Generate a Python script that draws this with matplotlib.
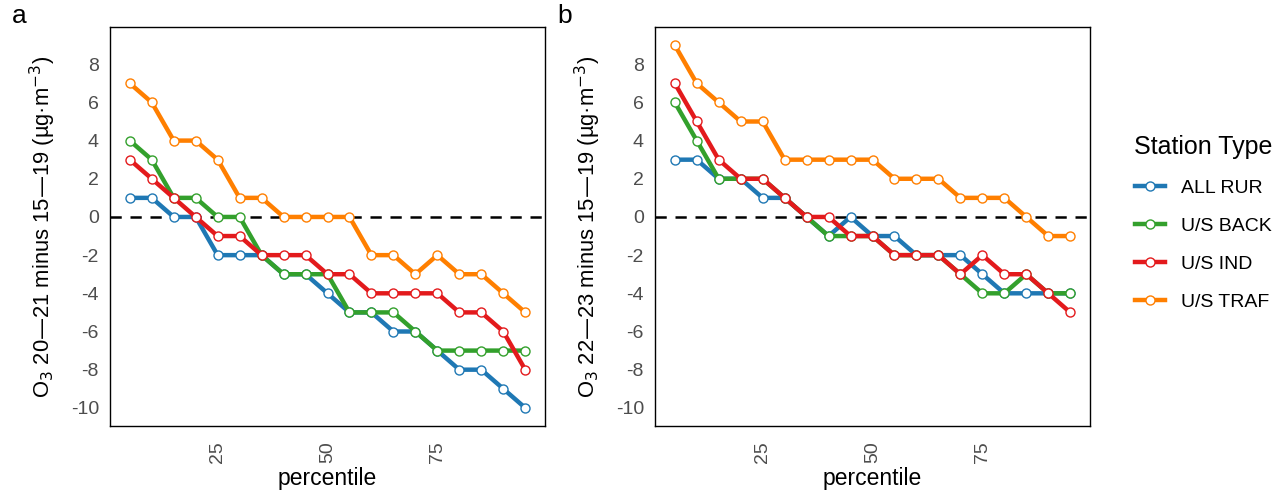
import matplotlib
matplotlib.use("Agg")
import matplotlib.pyplot as plt
from matplotlib.lines import Line2D

plt.rcParams['font.family'] = ['Liberation Sans', 'DejaVu Sans']
plt.rcParams['axes.unicode_minus'] = False

percentile = [5, 10, 15, 20, 25, 30, 35, 40, 45, 50, 55, 60, 65, 70, 75, 80, 85, 90, 95]
station_types = ["ALL RUR", "U/S BACK", "U/S IND", "U/S TRAF"]
colors = ["#1f78b4", "#33a02c", "#e31a1c", "#ff7f00"]

# Panel a: O3 2020-21 minus 2015-19
a_rur = [1, 1, 0, 0, -2, -2, -2, -3, -3, -4, -5, -5, -6, -6, -7, -8, -8, -9, -10]
a_back = [4, 3, 1, 1, 0, 0, -2, -3, -3, -3, -5, -5, -5, -6, -7, -7, -7, -7, -7]
a_ind = [3, 2, 1, 0, -1, -1, -2, -2, -2, -3, -3, -4, -4, -4, -4, -5, -5, -6, -8]
a_traf = [7, 6, 4, 4, 3, 1, 1, 0, 0, 0, 0, -2, -2, -3, -2, -3, -3, -4, -5]

# Panel b: O3 2022-23 minus 2015-19
b_rur = [3, 3, 2, 2, 1, 1, 0, -1, 0, -1, -1, -2, -2, -2, -3, -4, -4, -4, -4]
b_back = [6, 4, 2, 2, 2, 1, 0, -1, -1, -1, -2, -2, -2, -3, -4, -4, -3, -4, -4]
b_ind = [7, 5, 3, 2, 2, 1, 0, 0, -1, -1, -2, -2, -2, -3, -2, -3, -3, -4, -5]
b_traf = [9, 7, 6, 5, 5, 3, 3, 3, 3, 3, 2, 2, 2, 1, 1, 1, 0, -1, -1]

y_ticks = [-10, -8, -6, -4, -2, 0, 2, 4, 6, 8]
x_ticks = [25, 50, 75]

panels = [
    ("a", [a_rur, a_back, a_ind, a_traf], r"O$_3$ 20—21 minus 15—19 (µg·m$^{-3}$)"),
    ("b", [b_rur, b_back, b_ind, b_traf], r"O$_3$ 22—23 minus 15—19 (µg·m$^{-3}$)"),
]

W, H = 1278, 491
fig = plt.figure(figsize=(W / 100, H / 100), dpi=100)

axes_px = [(110, 27, 545, 426), (655, 27, 1090, 426)]
tag_px = [(12, 28), (557, 28)]

for (tag, series, ylabel), (l, t, r, b), (tx, ty) in zip(panels, axes_px, tag_px):
    ax = fig.add_axes([l / W, 1 - b / H, (r - l) / W, (b - t) / H])
    ax.axhline(0, color="black", lw=1.8, ls=(0, (4.5, 3.5)), zorder=1)
    for vals, c, name in zip(series, colors, station_types):
        ax.plot(percentile, vals, color=c, lw=3.2, marker="o", ms=6.5,
                mfc="white", mec=c, mew=1.0, zorder=2, label=name,
                solid_joinstyle="round", solid_capstyle="round")
    ax.set_xlim(0.5, 99.5)
    ax.set_ylim(-10.95, 9.95)
    ax.set_xticks(x_ticks)
    ax.set_xticklabels([str(v) for v in x_ticks], rotation=90)
    ax.set_yticks(y_ticks)
    ax.tick_params(length=0, labelsize=14, labelcolor="#4d4d4d")
    ax.tick_params(axis="y", pad=8)
    ax.tick_params(axis="x", pad=11)
    for s in ax.spines.values():
        s.set_color("black")
        s.set_linewidth(1.0)
    ax.set_xlabel("percentile", fontsize=16.5, labelpad=3)
    ax.set_ylabel(ylabel, fontsize=15.8, labelpad=9)
    fig.text(tx / W, 1 - ty / H, tag, fontsize=19, ha="left", va="bottom")

handles = [Line2D([], [], color=c, lw=3.2, marker="o", ms=6.5, mfc="white",
                  mec=c, mew=1.0) for c in colors]
fig.legend(handles, station_types, title="Station Type", loc="center left",
           bbox_to_anchor=(1117 / W, 1 - 223 / H), frameon=False,
           fontsize=14, title_fontsize=18, handlelength=1.55,
           labelspacing=1.05, handletextpad=0.85, alignment="left",
           borderpad=0.4)

fig.savefig("out.png", dpi=100)
